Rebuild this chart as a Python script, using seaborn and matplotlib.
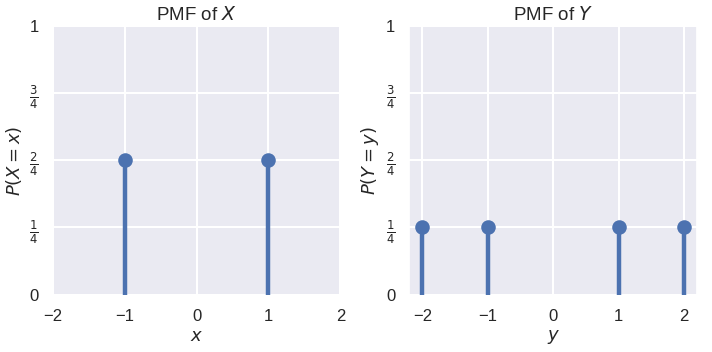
import matplotlib
matplotlib.use("Agg")
import matplotlib.pyplot as plt
import pandas as pd
import seaborn as sns

sns.set_theme(style="darkgrid")
plt.rcParams["font.family"] = ["Liberation Sans", "DejaVu Sans"]
plt.rcParams["grid.linewidth"] = 1.5

x_vals = [-1, 1]
x_probs = [0.5, 0.5]
y_vals = [-2, -1, 1, 2]
y_probs = [0.25, 0.25, 0.25, 0.25]
prob_ticks = [0, 0.25, 0.5, 0.75, 1]
prob_labels = ["0", r"$\frac{1}{4}$", r"$\frac{2}{4}$", r"$\frac{3}{4}$", "1"]

color = sns.color_palette("deep")[0]

fig, axes = plt.subplots(1, 2, figsize=(7.12, 3.52), dpi=100)
fig.subplots_adjust(left=0.074, right=0.979, bottom=0.163, top=0.926, wspace=0.24)


def pmf(ax, vals, probs, var, low):
    df = pd.DataFrame({"v": vals, "p": probs})
    ax.vlines(df["v"], 0, df["p"], color=color, lw=3.2, zorder=3)
    sns.scatterplot(data=df, x="v", y="p", ax=ax, color=color, s=110,
                    edgecolor=color, linewidth=0, zorder=4, clip_on=False)
    ax.set_ylim(0, 1)
    ax.set_yticks(prob_ticks)
    ax.set_yticklabels(prob_labels)
    ax.set_xticks([-2, -1, 0, 1, 2])
    ax.set_xticklabels(["\u22122", "\u22121", "0", "1", "2"])
    ax.tick_params(labelsize=12, pad=4)
    ax.set_xlabel(f"${low}$", fontsize=13, labelpad=3)
    ax.set_ylabel(f"$P({var} = {low})$", fontsize=13, labelpad=4)
    ax.set_title(f"PMF of ${var}$", fontsize=13.5, pad=4)


pmf(axes[0], x_vals, x_probs, "X", "x")
axes[0].set_xlim(-2, 2)
pmf(axes[1], y_vals, y_probs, "Y", "y")
axes[1].set_xlim(-2.2, 2.2)

fig.savefig("out.png", dpi=100)
